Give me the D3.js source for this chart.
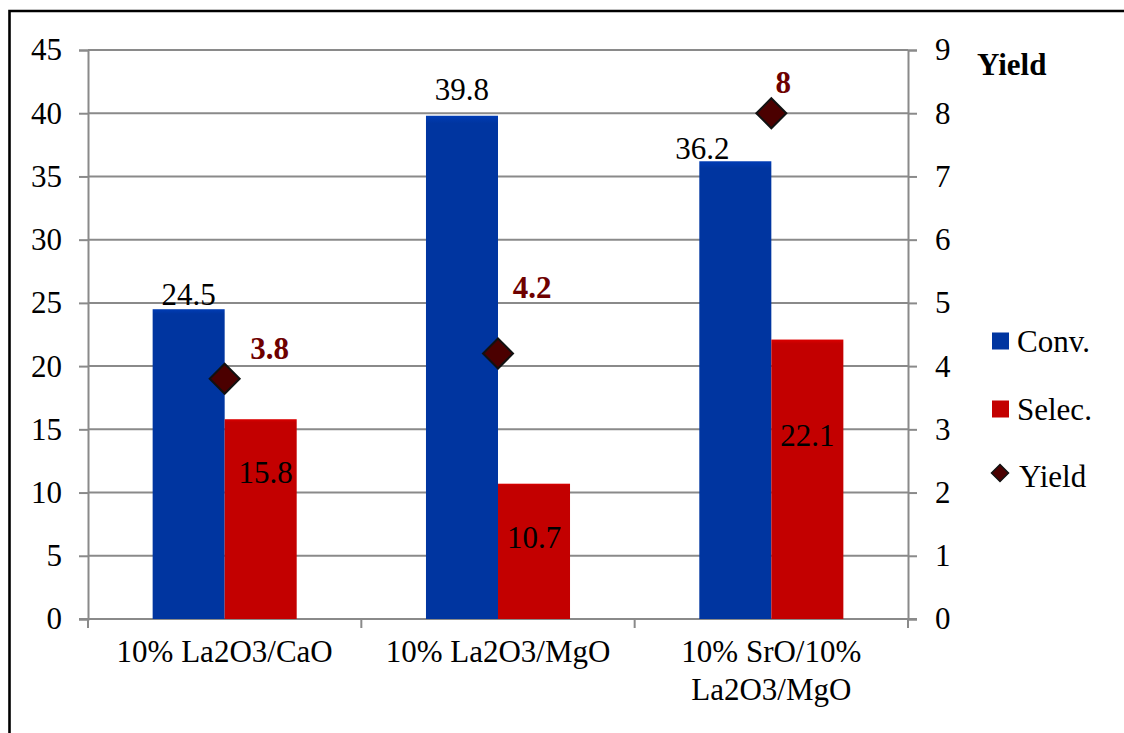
<!DOCTYPE html>
<html>
<head>
<meta charset="utf-8">
<script src="https://cdn.jsdelivr.net/npm/d3@7"></script>
<style>
  html, body { margin: 0; padding: 0; background: #fff; }
  svg { display: block; }
  text { font-family: "Liberation Serif", Tinos, "Times New Roman", Times, "DejaVu Serif", "Noto Serif", serif; }
</style>
</head>
<body>
<svg id="chart" width="1124" height="733"></svg>
<script>
// Catalyst performance: conversion & selectivity (left axis), yield (right axis)
const categories = [["10% La2O3/CaO"], ["10% La2O3/MgO"], ["10% SrO/10%", "La2O3/MgO"]];
const convValues = [24.5, 39.8, 36.2];
const selecValues = [15.8, 10.7, 22.1];
const yieldValues = [3.8, 4.2, 8];
const leftTicks = [0, 5, 10, 15, 20, 25, 30, 35, 40, 45];
const rightTicks = [0, 1, 2, 3, 4, 5, 6, 7, 8, 9];
const seriesNames = ["Conv.", "Selec.", "Yield"];

// hand-placed label offsets [dx, dy] relative to the mark
const convLabelNudge = [[0, -4], [0, -16], [-33, -2]];
const selecLabelNudge = [[5, 64], [0, 64], [0, 106]];
const yieldLabelNudge = [[45, -20], [34, -55], [12, -20]];

const blue = "#0035a0";
const red = "#c30000";
const maroon = "#4b0000";
const labelRed = "#6e0000";
const gridGray = "#8a8a8a";
const FONT = '"Liberation Serif", Tinos, "Times New Roman", Times, "DejaVu Serif", "Noto Serif", serif';

const svg = d3.select("#chart");

const plot = { left: 88, right: 908, top: 50, bottom: 619 };

const x = d3.scaleBand()
  .domain(d3.range(categories.length))
  .range([plot.left, plot.right])
  .paddingInner(0.473)
  .paddingOuter(0.2365);

const xs = d3.scaleBand().domain([0, 1]).range([0, x.bandwidth()]);

const yL = d3.scaleLinear().domain([0, 45]).range([plot.bottom, plot.top]);
const yR = d3.scaleLinear().domain([0, 9]).range([plot.bottom, plot.top]);

// outer frame (top and left edges)
svg.append("path")
  .attr("d", "M9.5,733 L9.5,11 L1124,11")
  .attr("fill", "none").attr("stroke", "#000").attr("stroke-width", 2.6);

// horizontal gridlines
svg.append("g").selectAll("line").data(leftTicks.filter(d => d > 0)).join("line")
  .attr("x1", plot.left).attr("x2", plot.right)
  .attr("y1", d => yL(d)).attr("y2", d => yL(d))
  .attr("stroke", gridGray).attr("stroke-width", 2);

// left axis
const gL = svg.append("g").attr("transform", `translate(${plot.left},0)`)
  .call(d3.axisLeft(yL).tickValues(leftTicks).tickSize(9).tickPadding(17));
gL.attr("font-family", FONT).attr("font-size", 31);
gL.select(".domain").attr("stroke", gridGray).attr("stroke-width", 2);
gL.selectAll(".tick line").attr("stroke", gridGray).attr("stroke-width", 2);
gL.selectAll(".tick text").attr("fill", "#000");

// right axis
const gR = svg.append("g").attr("transform", `translate(${plot.right},0)`)
  .call(d3.axisRight(yR).tickValues(rightTicks).tickSize(9).tickPadding(18));
gR.attr("font-family", FONT).attr("font-size", 31);
gR.select(".domain").attr("stroke", gridGray).attr("stroke-width", 2);
gR.selectAll(".tick line").attr("stroke", gridGray).attr("stroke-width", 2);
gR.selectAll(".tick text").attr("fill", "#000");

// category axis
svg.append("line")
  .attr("x1", plot.left - 9).attr("x2", plot.right + 9)
  .attr("y1", plot.bottom).attr("y2", plot.bottom)
  .attr("stroke", gridGray).attr("stroke-width", 2);
const step = x.step();
const bounds = d3.range(categories.length + 1).map(i => plot.left + i * step);
svg.append("g").selectAll("line").data(bounds).join("line")
  .attr("x1", d => d).attr("x2", d => d)
  .attr("y1", plot.bottom).attr("y2", plot.bottom + 9)
  .attr("stroke", gridGray).attr("stroke-width", 2);

const catLabels = svg.append("g").selectAll("text").data(categories).join("text")
  .attr("x", (d, i) => x(i) + x.bandwidth() / 2)
  .attr("y", 662)
  .attr("text-anchor", "middle")
  .attr("font-size", 31).attr("fill", "#000");
catLabels.each(function (lines) {
  const t = d3.select(this);
  lines.forEach((ln, k) => {
    t.append("tspan").attr("x", t.attr("x")).attr("dy", k === 0 ? 0 : 38).text(ln);
  });
});

// bar gradients for a soft bevel
const defs = svg.append("defs");
function bevel(id, base) {
  const g = defs.append("linearGradient").attr("id", id)
    .attr("x1", 0).attr("x2", 0).attr("y1", 0).attr("y2", 1);
  const c = d3.color(base);
  g.append("stop").attr("offset", "0%").attr("stop-color", c.brighter(0.35));
  g.append("stop").attr("offset", "1.5%").attr("stop-color", base);
  g.append("stop").attr("offset", "100%").attr("stop-color", base);
}
bevel("gBlue", blue);
bevel("gRed", red);

// bars
const bars = svg.append("g");
bars.selectAll(".conv").data(convValues).join("rect")
  .attr("class", "conv")
  .attr("x", (d, i) => x(i) + xs(0))
  .attr("width", xs.bandwidth())
  .attr("y", d => yL(d))
  .attr("height", d => yL(0) - yL(d))
  .attr("fill", "url(#gBlue)");
bars.selectAll(".selec").data(selecValues).join("rect")
  .attr("class", "selec")
  .attr("x", (d, i) => x(i) + xs(1))
  .attr("width", xs.bandwidth())
  .attr("y", d => yL(d))
  .attr("height", d => yL(0) - yL(d))
  .attr("fill", "url(#gRed)");

// bar value labels
svg.append("g").selectAll("text").data(convValues).join("text")
  .attr("x", (d, i) => x(i) + xs(0) + xs.bandwidth() / 2 + convLabelNudge[i][0])
  .attr("y", (d, i) => yL(d) + convLabelNudge[i][1])
  .attr("text-anchor", "middle").attr("font-size", 31).attr("fill", "#000")
  .text(d => d);
svg.append("g").selectAll("text").data(selecValues).join("text")
  .attr("x", (d, i) => x(i) + xs(1) + xs.bandwidth() / 2 + selecLabelNudge[i][0])
  .attr("y", (d, i) => yL(d) + selecLabelNudge[i][1])
  .attr("text-anchor", "middle").attr("font-size", 31).attr("fill", "#000")
  .text(d => d);

// yield markers (diamonds)
const diamond = r => `M0,${-r} L${r},0 L0,${r} L${-r},0 Z`;
svg.append("g").selectAll("path").data(yieldValues).join("path")
  .attr("transform", (d, i) => `translate(${x(i) + x.bandwidth() / 2},${yR(d)})`)
  .attr("d", diamond(15))
  .attr("fill", maroon).attr("stroke", "#111").attr("stroke-width", 2);
svg.append("g").selectAll("text").data(yieldValues).join("text")
  .attr("x", (d, i) => x(i) + x.bandwidth() / 2 + yieldLabelNudge[i][0])
  .attr("y", (d, i) => yR(d) + yieldLabelNudge[i][1])
  .attr("text-anchor", "middle").attr("font-size", 31)
  .attr("font-weight", "bold").attr("fill", labelRed)
  .text(d => d);

// right-axis title
svg.append("text").attr("x", 977).attr("y", 75)
  .attr("font-size", 31).attr("font-weight", "bold").attr("fill", "#000")
  .text("Yield");

// legend
const legend = svg.append("g");
const legendRows = [
  { name: seriesNames[0], kind: "rect", color: blue, y: 341 },
  { name: seriesNames[1], kind: "rect", color: red, y: 409 },
  { name: seriesNames[2], kind: "diamond", color: maroon, y: 476 }
];
legendRows.forEach(r => {
  if (r.kind === "rect") {
    legend.append("rect").attr("x", 992).attr("y", r.y - 8.5)
      .attr("width", 17).attr("height", 17).attr("fill", r.color);
  } else {
    legend.append("path").attr("transform", `translate(1000,${r.y - 3})`)
      .attr("d", diamond(8.5)).attr("fill", r.color)
      .attr("stroke", "#111").attr("stroke-width", 1.5);
  }
  legend.append("text").attr("x", r.kind === "rect" ? 1017 : 1019).attr("y", r.y + 11)
    .attr("font-size", 31).attr("fill", "#000").text(r.name);
});
</script>
</body>
</html>
